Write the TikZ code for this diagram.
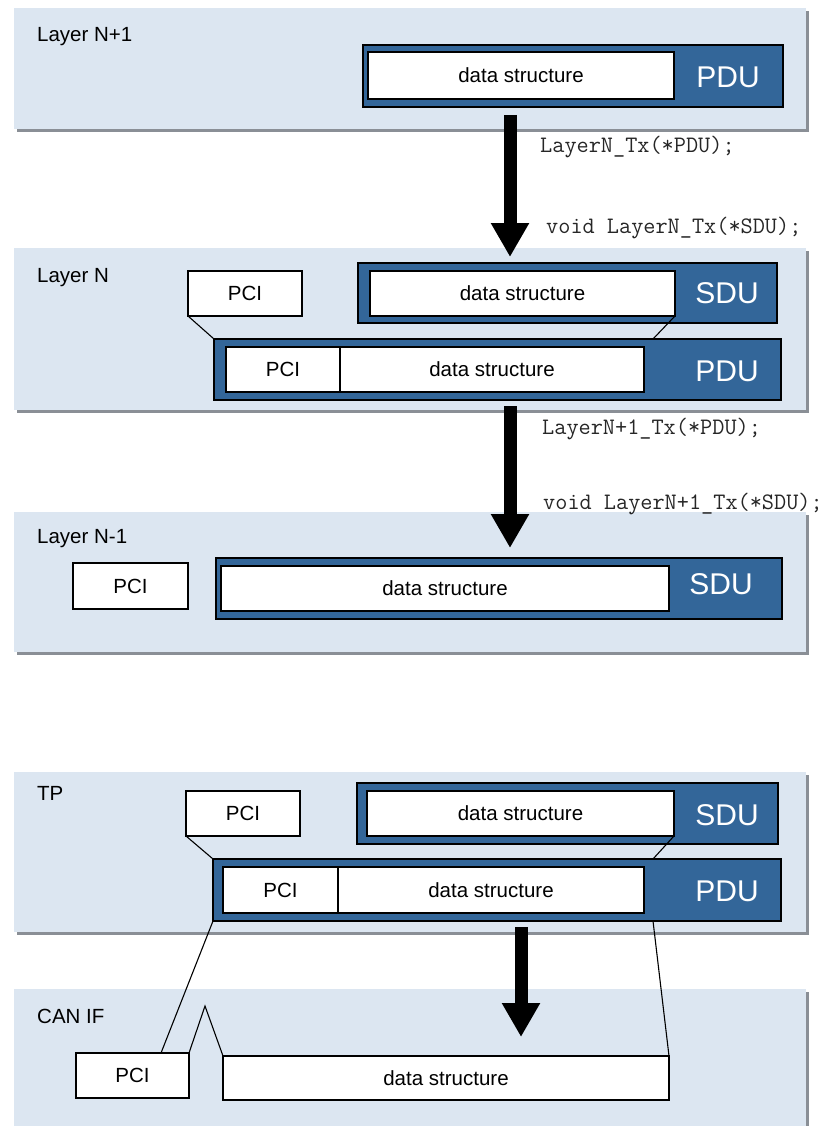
\documentclass[tikz,border=0pt]{standalone}
\usepackage{fontspec}
\setmainfont{Liberation Sans}
\usetikzlibrary{shadows,arrows.meta}
\definecolor{panelfill}{RGB}{220,230,241}
\definecolor{shadowgray}{RGB}{138,143,150}
\definecolor{pdublue}{RGB}{51,102,153}
\begin{document}
\begin{tikzpicture}[x=1pt,y=-1pt,
  panel/.style={rectangle, fill=panelfill, draw=none, inner sep=0pt, outer sep=0pt, anchor=north west,
    general shadow={fill=shadowgray, shadow xshift=3pt, shadow yshift=-3pt}},
  frame/.style={rectangle, fill=pdublue, draw=black, line width=1.6pt, inner sep=0pt, outer sep=0pt, anchor=north west},
  wbox/.style={rectangle, fill=white, draw=black, line width=1.6pt, inner sep=0pt, outer sep=0pt, anchor=north west,
    font=\fontsize{20.5pt}{24pt}\selectfont},
  biglabel/.style={text=white, font=\fontsize{30pt}{34pt}\selectfont, inner sep=0pt},
  layerlabel/.style={anchor=base west, inner sep=0pt, font=\fontsize{20.5pt}{24pt}\selectfont},
  code/.style={anchor=base west, inner sep=0pt, text=black!85, font=\ttfamily\fontsize{23.6pt}{26pt}\selectfont},
  conn/.style={draw=black, line width=1.1pt},
  bigarrow/.style={draw=black, line width=13pt, -{Triangle[width=36pt,length=34pt]}}
]
\useasboundingbox (0,0) rectangle (832,1126);

% panels
\node[panel, minimum width=792pt, minimum height=121pt] (pA) at (14,8) {};
\node[panel, minimum width=792pt, minimum height=162pt] (pB) at (14,248) {};
\node[panel, minimum width=792pt, minimum height=140pt] (pC) at (14,512) {};
\node[panel, minimum width=792pt, minimum height=160pt] (pD) at (14,772) {};
\node[panel, minimum width=792pt, minimum height=140pt] (pE) at (14,989) {};

% labels
\node[layerlabel] (lA) at (37,42) {Layer N+1};
\node[layerlabel] (lB) at (37,282) {Layer N};
\node[layerlabel] (lC) at (37,543) {Layer N-1};
\node[layerlabel] (lD) at (37,800) {TP};
\node[layerlabel] (lE) at (37,1023) {CAN IF};

% Layer N+1
\node[frame, minimum width=420pt, minimum height=62pt] (aPDU) at (363,45) {};
\node[wbox, minimum width=306pt, minimum height=47pt] (aData) at (368,52) {data structure};
\node[biglabel] (aLbl) at (728,77) {PDU};

% Layer N
\node[wbox, minimum width=114pt, minimum height=45pt] (bPCI) at (188,271) {PCI};
\node[frame, minimum width=419pt, minimum height=60pt] (bSDU) at (358,263) {};
\node[wbox, minimum width=305pt, minimum height=45pt] (bSDUin) at (370,271) {data structure};
\node[biglabel] (bSDUlbl) at (727,293) {SDU};
\node[frame, minimum width=567pt, minimum height=61pt] (bPDU) at (214,339) {};
\node[wbox, minimum width=114pt, minimum height=45pt] (bPDUpci) at (226,347) {PCI};
\node[wbox, minimum width=304pt, minimum height=45pt] (bPDUdata) at (340,347) {data structure};
\node[biglabel] (bPDUlbl) at (727,371) {PDU};
\coordinate (bJoin) at (653,339);
\draw[conn] (bPCI.south west) -- (bPDU.north west);
\draw[conn] (bSDUin.south east) -- (bJoin);

% Layer N-1
\node[wbox, minimum width=115pt, minimum height=46pt] (cPCI) at (73,563) {PCI};
\node[frame, minimum width=566pt, minimum height=61pt] (cSDU) at (216,558) {};
\node[wbox, minimum width=448pt, minimum height=45pt] (cData) at (221,566) {data structure};
\node[biglabel] (cLbl) at (721,584) {SDU};

% TP
\node[wbox, minimum width=114pt, minimum height=45pt] (dPCI) at (186,791) {PCI};
\node[frame, minimum width=421pt, minimum height=61pt] (dSDU) at (357,783) {};
\node[wbox, minimum width=307pt, minimum height=45pt] (dSDUin) at (367,791) {data structure};
\node[biglabel] (dSDUlbl) at (727,815) {SDU};
\node[frame, minimum width=568pt, minimum height=62pt] (dPDU) at (213,859) {};
\node[wbox, minimum width=115pt, minimum height=46pt] (dPDUpci) at (223,867) {PCI};
\node[wbox, minimum width=306pt, minimum height=46pt] (dPDUdata) at (338,867) {data structure};
\node[biglabel] (dPDUlbl) at (727,891) {PDU};
\coordinate (dJoin) at (653,859);
\draw[conn] (dPCI.south west) -- (dPDU.north west);
\draw[conn] (dSDUin.south east) -- (dJoin);

% CAN IF
\node[wbox, minimum width=113pt, minimum height=45pt] (ePCI) at (76,1053) {PCI};
\node[wbox, minimum width=446pt, minimum height=44pt] (eData) at (223,1056) {data structure};
\coordinate (eL) at (161,1053);
\coordinate (dR) at (653,921);
\coordinate (ePeak) at (205,1006);
\draw[conn] (dPDU.south west) -- (eL);
\draw[conn] (dR) -- (eData.north east);
\draw[conn] (ePCI.north east) -- (ePeak) -- (eData.north west);

% arrows
\coordinate (a1s) at (510,115); \coordinate (a1e) at (510,257);
\coordinate (a2s) at (510,406); \coordinate (a2e) at (510,548);
\coordinate (a3s) at (521,927); \coordinate (a3e) at (521,1037);
\draw[bigarrow] (a1s) -- (a1e);
\draw[bigarrow] (a2s) -- (a2e);
\draw[bigarrow] (a3s) -- (a3e);

% code labels
\node[code] (k1) at (540,153) {LayerN\_Tx(*PDU);};
\node[code] (k2) at (546,233) {void LayerN\_Tx(*SDU);};
\node[code] (k3) at (542,434) {LayerN+1\_Tx(*PDU);};
\node[code] (k4) at (543,509) {void LayerN+1\_Tx(*SDU);};
\end{tikzpicture}
\end{document}
